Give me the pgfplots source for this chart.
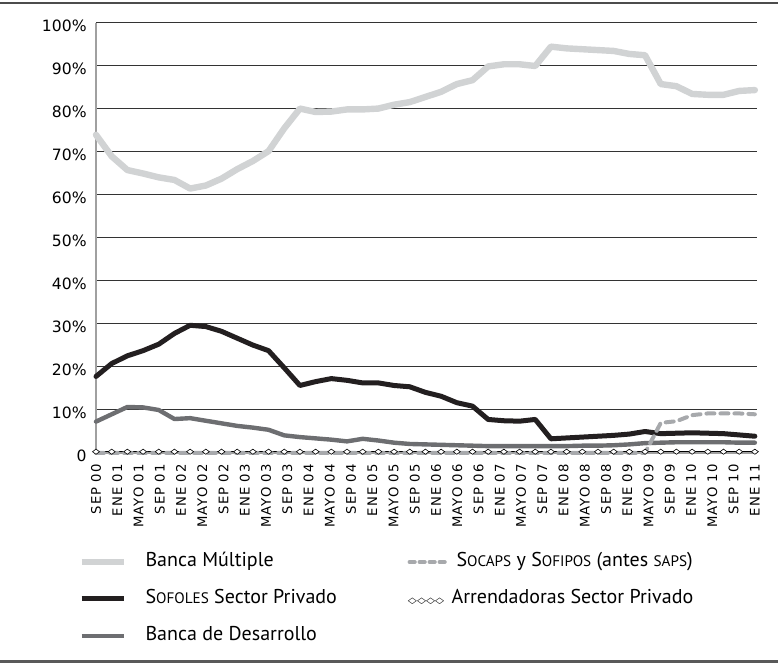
\documentclass[border=0pt]{standalone}
\usepackage{pgfplots}
\pgfplotsset{compat=1.18}
\usepackage{pgfplotstable}
\usepackage{fontspec}
\setmainfont{PT Sans}
\newfontfamily\yfont{DejaVu Sans}
\newfontfamily\xfont{DejaVu Sans}[LetterSpace=8]
\newfontfamily\symfont{DejaVu Sans}
\newcommand\smc[1]{{\fontsize{7.6}{9}\selectfont #1}}
\definecolor{bmcol}{HTML}{D1D3D4}
\definecolor{socol}{HTML}{231F20}
\definecolor{decol}{HTML}{6D6E71}
\definecolor{sccol}{HTML}{A7A9AC}
\definecolor{axgray}{HTML}{A0A0A0}

\pgfplotstableread{
k BM SO DE SC AR
0 74.0 17.8 7.3 0 0.3
1 69.0 20.8 9.0 0 0.3
2 65.8 22.6 10.7 0 0.3
3 65.0 23.8 10.6 0 0.3
4 64.1 25.3 10.0 0 0.3
5 63.5 27.8 7.9 0 0.3
6 61.5 29.7 8.1 0 0.3
7 62.2 29.4 7.5 0 0.3
8 63.8 28.3 6.9 0 0.3
9 66.0 26.7 6.3 0 0.3
10 67.9 25.1 5.9 0 0.3
11 70.2 23.8 5.4 0 0.3
12 75.5 19.8 4.1 0 0.3
13 80.1 15.7 3.7 0 0.3
14 79.3 16.6 3.4 0 0.3
15 79.4 17.3 3.1 0 0.3
16 79.9 16.9 2.7 0 0.3
17 79.9 16.3 3.3 0 0.3
18 80.1 16.3 2.9 0 0.3
19 81.0 15.7 2.4 0 0.3
20 81.6 15.4 2.1 0 0.3
21 82.8 14.1 2.0 0 0.3
22 84.0 13.2 1.9 0 0.3
23 85.8 11.7 1.8 0 0.3
24 86.7 10.9 1.7 0 0.3
25 89.9 7.8 1.6 0 0.3
26 90.4 7.5 1.6 0 0.3
27 90.4 7.4 1.6 0 0.3
28 90.0 7.8 1.6 0 0.3
29 94.5 3.3 1.6 0 0.3
30 94.1 3.5 1.6 0 0.3
31 93.9 3.7 1.7 0 0.3
32 93.7 3.9 1.7 0 0.3
33 93.5 4.1 1.8 0 0.3
34 92.8 4.4 2.0 0 0.3
35 92.5 5.0 2.3 0 0.3
36 85.8 4.5 2.4 7.0 0.3
37 85.3 4.6 2.5 7.4 0.3
38 83.5 4.7 2.5 8.8 0.3
39 83.3 4.6 2.5 9.2 0.3
40 83.3 4.5 2.5 9.2 0.3
41 84.2 4.2 2.4 9.2 0.3
42 84.4 3.9 2.4 9.0 0.3
}\datatable

\begin{document}
\begin{tikzpicture}
\useasboundingbox (0,0) rectangle (389pt,332pt);
\draw[line width=1pt, color=black!70] (0,330.6pt) -- (389pt,330.6pt);
\draw[line width=1.5pt, color=black!65] (0,1pt) -- (389pt,1pt);
\begin{axis}[
  scale only axis, width=330.5pt, height=215pt,
  at={(48pt,105.5pt)}, anchor=south west,
  xmin=0, xmax=124.4, ymin=0, ymax=100,
  axis x line*=bottom, axis y line*=left,
  axis line style={-, draw=axgray, line width=1pt},
  x axis line style={-, line width=1.4pt},
  ytick={0,10,...,100},
  yticklabels={0,10\%,20\%,30\%,40\%,50\%,60\%,70\%,80\%,90\%,100\%},
  xtick={0,4,...,124},
  xticklabels={SEP 00,ENE 01,MAYO 01,SEP 01,ENE 02,MAYO 02,SEP 02,ENE 03,MAYO 03,SEP 03,ENE 04,MAYO 04,SEP 04,ENE 05,MAYO 05,SEP 05,ENE 06,MAYO 06,SEP 06,ENE 07,MAYO 07,SEP 07,ENE 08,MAYO 08,SEP 08,ENE 09,MAYO 09,SEP 09,ENE 10,MAYO 10,SEP 10,ENE 11},
  major tick length=0pt,
  ymajorgrids, grid style={black!80, line width=0.5pt},
  clip=false,
  yticklabel style={font={\yfont\fontsize{7.8}{9}\selectfont}, anchor=east, inner sep=0pt, xshift=-4.5pt, yshift=-1.5pt},
  xticklabel style={font={\xfont\fontsize{6.6}{7}\selectfont}, yshift=-5.5pt, rotate=90, anchor=east, inner sep=0pt},
  legend columns=2,
  legend cell align=left,
  legend style={draw=none, fill=none, at={(-0.027,-0.2316)}, anchor=north west, inner sep=0pt, font={\fontsize{10}{12}\selectfont}, row sep=9.5pt, column sep=0pt, nodes={inner sep=0pt, text height=7pt, text depth=2pt}},
]
\addplot[forget plot, bmcol, line width=3.2pt, line join=round, line cap=round] table[x expr=\thisrow{k}*124/42, y=BM] {\datatable};
\addplot[forget plot, decol, line width=2.2pt, line join=round, line cap=round] table[x expr=\thisrow{k}*124/42, y=DE] {\datatable};
\addplot[forget plot, socol, line width=2.5pt, line join=round, line cap=round] table[x expr=\thisrow{k}*124/42, y=SO] {\datatable};
\addplot[forget plot, black, line width=0.3pt, mark=diamond*, mark size=1.3pt, mark options={fill=white, xscale=1.8, line width=0.3pt}] table[x expr=\thisrow{k}*124/42, y=AR] {\datatable};
\addplot[forget plot, sccol, line width=2pt, line join=round, line cap=round, dash pattern=on 4pt off 3pt] table[x expr=\thisrow{k}*124/42, y=SC] {\datatable};

\addlegendimage{legend image code/.code={\draw[bmcol, line width=3pt] (0pt,0pt) -- (21pt,0pt);}}
\addlegendentry{\hspace{9.5pt}\makebox[131pt][l]{Banca Múltiple}}
\addlegendimage{legend image code/.code={\draw[sccol, line width=2pt, line cap=round, dash pattern=on 2.6pt off 2.4pt] (1pt,0pt) -- (20pt,0pt);}}
\addlegendentry{\hspace{3.5pt}S\smc{OCAPS} y S\smc{OFIPOS} (antes \smc{SAPS})}
\addlegendimage{legend image code/.code={\draw[socol, line width=2.5pt] (0pt,0pt) -- (21pt,0pt);}}
\addlegendentry{\hspace{9.5pt}\makebox[131pt][l]{S\smc{OFOLES} Sector Privado}}
\addlegendimage{legend image code/.code={\node[inner sep=0pt, anchor=west] at (0pt,0pt) {\scalebox{1.0}[0.72]{\symfont\fontsize{5.9}{5.9}\selectfont ◇◇◇◇}};}}
\addlegendentry{\hspace{1pt}Arrendadoras Sector Privado}
\addlegendimage{legend image code/.code={\draw[decol, line width=2.2pt] (0pt,0pt) -- (21pt,0pt);}}
\addlegendentry{\hspace{9.5pt}\makebox[131pt][l]{Banca de Desarrollo}}
\end{axis}
\end{tikzpicture}
\end{document}
